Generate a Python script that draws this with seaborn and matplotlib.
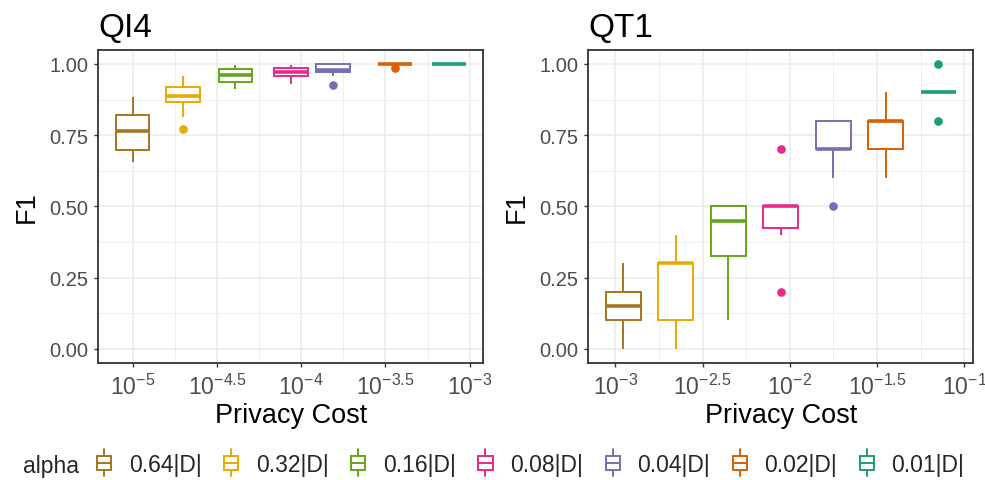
# F1 vs privacy cost, two panels (QI4 / QT1), boxplots per alpha
import numpy as np
import pandas as pd
import matplotlib
matplotlib.use("Agg")
import matplotlib.pyplot as plt
import matplotlib.patches as mpatches
from matplotlib.lines import Line2D
from matplotlib.legend_handler import HandlerBase
import seaborn as sns

# ---- values ----
alpha_labels = ["0.64|D|", "0.32|D|", "0.16|D|", "0.08|D|", "0.04|D|", "0.02|D|", "0.01|D|"]
palette = ["#A6761D", "#E6AB02", "#66A61E", "#E7298A", "#7570B3", "#D95F02", "#1B9E77"]

# log10(privacy cost) per alpha
qi4_cost = [-5.0, -4.70, -4.39, -4.06, -3.81, -3.445, -3.125]
qt1_cost = [-2.955, -2.654, -2.353, -2.052, -1.751, -1.450, -1.149]

# F1 per run, per alpha
qi4_f1 = [
    [0.657, 0.68, 0.69, 0.72, 0.75, 0.778, 0.81, 0.823, 0.84, 0.884],
    [0.773, 0.814, 0.865, 0.873, 0.88, 0.892, 0.915, 0.922, 0.94, 0.956],
    [0.912, 0.925, 0.934, 0.942, 0.955, 0.967, 0.978, 0.982, 0.99, 0.997],
    [0.928, 0.945, 0.955, 0.96, 0.968, 0.974, 0.983, 0.986, 0.99, 0.997],
    [0.927, 0.959, 0.97, 0.976, 0.976, 0.978, 1.0, 1.0, 1.0, 1.0],
    [0.984, 1.0, 1.0, 1.0, 1.0, 1.0, 1.0, 1.0, 1.0, 1.0],
    [1.0, 1.0, 1.0, 1.0, 1.0, 1.0, 1.0, 1.0, 1.0, 1.0],
]
qt1_f1 = [
    [0.0, 0.1, 0.1, 0.1, 0.1, 0.2, 0.2, 0.2, 0.2, 0.3],
    [0.0, 0.1, 0.1, 0.1, 0.3, 0.3, 0.3, 0.3, 0.3, 0.4],
    [0.1, 0.3, 0.3, 0.4, 0.4, 0.5, 0.5, 0.5, 0.5, 0.5],
    [0.2, 0.4, 0.4, 0.5, 0.5, 0.5, 0.5, 0.5, 0.5, 0.7],
    [0.5, 0.6, 0.7, 0.7, 0.7, 0.7, 0.8, 0.8, 0.8, 0.8],
    [0.6, 0.7, 0.7, 0.7, 0.8, 0.8, 0.8, 0.8, 0.8, 0.9],
    [0.8, 0.9, 0.9, 0.9, 0.9, 0.9, 0.9, 0.9, 0.9, 1.0],
]

panels = [
    ("QI4", qi4_cost, qi4_f1, [-5.0, -4.5, -4.0, -3.5, -3.0]),
    ("QT1", qt1_cost, qt1_f1, [-3.0, -2.5, -2.0, -1.5, -1.0]),
]
y_ticks = [0.0, 0.25, 0.5, 0.75, 1.0]


def long_table(costs, values):
    rows = []
    for lab, c, vals in zip(alpha_labels, costs, values):
        for v in vals:
            rows.append((lab, c, v))
    return pd.DataFrame(rows, columns=["alpha", "cost", "f1"])


# ---- style (ggplot theme_bw look) ----
sns.set_theme(style="white")
plt.rcParams["font.family"] = ["Liberation Sans", "DejaVu Sans"]
plt.rcParams["mathtext.fontset"] = "custom"
plt.rcParams["mathtext.rm"] = "Liberation Sans"
plt.rcParams["mathtext.default"] = "rm"

fig = plt.figure(figsize=(9.85, 4.81), dpi=100)
W, H = 985, 481
ax_boxes = [(98.3, 50.7, 483, 364), (588.3, 50.7, 973.3, 364)]

BOX_W = 0.2
for (title, costs, f1s, xticks), (x0, y0, x1, y1) in zip(panels, ax_boxes):
    ax = fig.add_axes([x0 / W, 1 - y1 / H, (x1 - x0) / W, (y1 - y0) / H])
    df = long_table(costs, f1s)

    for lab, col in zip(alpha_labels, palette):
        sub = df[df["alpha"] == lab]
        sns.boxplot(data=sub, x="cost", y="f1", orient="x", native_scale=True,
                    color="white", linecolor=col, saturation=1, width=BOX_W,
                    linewidth=1.4, fliersize=5.2, showcaps=False,
                    medianprops={"linewidth": 2.6},
                    flierprops={"marker": "o", "markerfacecolor": col,
                                "markeredgecolor": col},
                    ax=ax)

    # ggplot-like expansion of the x range
    lo = min(costs) - BOX_W / 2
    hi = max(costs) + BOX_W / 2
    ax.set_xlim(lo - 0.05 * (hi - lo), hi + 0.05 * (hi - lo))
    ax.set_ylim(-0.05, 1.05)

    ax.set_xticks(xticks)
    ax.set_xticklabels([f"$10^{{{t:g}}}$" for t in xticks])
    ax.set_xticks([t + 0.25 for t in xticks[:-1]], minor=True)
    ax.set_yticks(y_ticks)
    ax.set_yticklabels([f"{t:.2f}" for t in y_ticks])
    ax.set_yticks([t + 0.125 for t in y_ticks[:-1]], minor=True)

    ax.set_axisbelow(True)
    ax.grid(True, which="major", color="#EBEBEB", linewidth=1.1)
    ax.grid(True, which="minor", color="#EBEBEB", linewidth=0.55)
    for s in ax.spines.values():
        s.set_color("#333333")
        s.set_linewidth(1.3)
    ax.tick_params(which="major", length=3, width=1, color="#333333",
                   labelsize=14.5, labelcolor="#4D4D4D", bottom=True, left=True)
    ax.tick_params(which="minor", length=0)
    ax.tick_params(axis="x", which="major", pad=5, labelsize=16.5)
    ax.tick_params(axis="y", which="major", pad=4.3)

    ax.set_title(title, loc="left", fontsize=24, pad=9.6, color="black")
    ax.set_xlabel("Privacy Cost", fontsize=19.5, color="black")
    ax.set_ylabel("F1", fontsize=19.5, color="black")
    ax.xaxis.set_label_coords(0.5, -0.1245)
    ax.yaxis.set_label_coords(-0.153, 0.5)


# ---- legend with small boxplot keys ----
class BoxKey(HandlerBase):
    def create_artists(self, legend, orig_handle, xdescent, ydescent,
                       width, height, fontsize, trans):
        col = orig_handle.get_edgecolor()
        cx = -xdescent + width / 2
        hh = 1.3 * height
        yb = -ydescent + height / 2 - hh / 2
        whisker = Line2D([cx, cx], [yb, yb + hh], color=col, lw=1.4,
                         transform=trans)
        box = mpatches.Rectangle((-xdescent, yb + 0.24 * hh), width,
                                 0.52 * hh, facecolor="white",
                                 edgecolor=col, lw=1.4, transform=trans)
        med = Line2D([-xdescent, -xdescent + width], [yb + hh / 2] * 2,
                     color=col, lw=1.4, transform=trans)
        return [whisker, box, med]


handles = [mpatches.Patch(facecolor="white", edgecolor=c) for c in palette]
leg_y = 1 - 465 / H
fig.text(23 / W, 1 - 466 / H, "alpha", ha="left", va="center", fontsize=16.5)
fig.legend(handles, alpha_labels, handler_map={mpatches.Patch: BoxKey()},
           loc="center left", bbox_to_anchor=(97 / W, leg_y), ncol=7,
           frameon=False, fontsize=16.5, handlelength=0.62, handleheight=1.0,
           handletextpad=0.76, columnspacing=0.99, borderpad=0,
           borderaxespad=0)

fig.savefig("out.png", dpi=100)
